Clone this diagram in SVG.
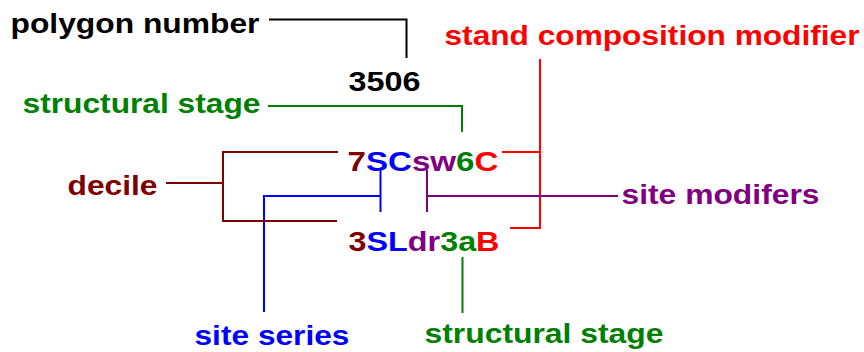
<svg xmlns="http://www.w3.org/2000/svg" width="864" height="352" viewBox="0 0 864 352">
<style>
text{font-family:"Liberation Sans",Arial,sans-serif;font-weight:bold;font-size:28.5px}
.c{fill:none;stroke-width:2}
.k{fill:#000}.g{fill:#008000}.r{fill:#ff0000}.m{fill:#800000}.b{fill:#0000ff}.p{fill:#800080}
</style>
<rect width="864" height="352" fill="#fff"/>
<g id="connectors" class="c">
<polyline points="269,19.5 406.5,19.5 406.5,58" stroke="#000"/>
<polyline points="268,106 462,106 462,132" stroke="#008000"/>
<line x1="462.5" y1="257" x2="462.5" y2="313" stroke="#008000"/>
<line x1="540" y1="59" x2="540" y2="228" stroke="#ff0000"/>
<line x1="502" y1="152" x2="541" y2="152" stroke="#ff0000"/>
<line x1="510" y1="228" x2="541" y2="228" stroke="#ff0000"/>
<line x1="427" y1="170" x2="427" y2="212" stroke="#800080"/>
<line x1="427" y1="196" x2="618" y2="196" stroke="#800080"/>
<line x1="380.5" y1="170" x2="380.5" y2="212" stroke="#0000ff"/>
<polyline points="380.5,196 264,196 264,312" stroke="#0000ff"/>
<polyline points="338,152 223,152 223,221 337,221" stroke="#800000"/>
<line x1="166" y1="183" x2="223" y2="183" stroke="#800000"/>
</g>
<g id="polygon-number-label"><text class="k" x="10.5" y="33" textLength="249" lengthAdjust="spacingAndGlyphs">polygon number</text></g>
<g id="polygon-number"><text class="k" x="348.5" y="90.5" textLength="72" lengthAdjust="spacingAndGlyphs">3506</text></g>
<g id="structural-stage-top"><text class="g" x="22.5" y="113" textLength="238" lengthAdjust="spacingAndGlyphs">structural stage</text></g>
<g id="stand-composition-modifier"><text class="r" x="444.5" y="45" textLength="415" lengthAdjust="spacingAndGlyphs">stand composition modifier</text></g>
<g id="code-top"><text x="347.5" y="171" textLength="151" lengthAdjust="spacingAndGlyphs"><tspan class="m">7</tspan><tspan class="b">SC</tspan><tspan class="p">sw</tspan><tspan class="g">6</tspan><tspan class="r">C</tspan></text></g>
<g id="code-bottom"><text x="348.5" y="250.5" textLength="151" lengthAdjust="spacingAndGlyphs"><tspan class="m">3</tspan><tspan class="b">SL</tspan><tspan class="p">dr</tspan><tspan class="g">3a</tspan><tspan class="r">B</tspan></text></g>
<g id="decile"><text class="m" x="67.5" y="195" textLength="90" lengthAdjust="spacingAndGlyphs">decile</text></g>
<g id="site-modifers"><text class="p" x="621.5" y="203.5" textLength="198" lengthAdjust="spacingAndGlyphs">site modifers</text></g>
<g id="site-series"><text class="b" x="194.5" y="345" textLength="155" lengthAdjust="spacingAndGlyphs">site series</text></g>
<g id="structural-stage-bottom"><text class="g" x="424.5" y="343" textLength="239" lengthAdjust="spacingAndGlyphs">structural stage</text></g>
</svg>
